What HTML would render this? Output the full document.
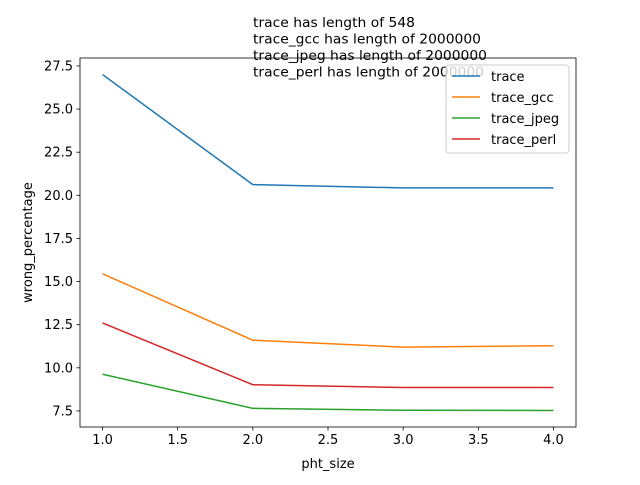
<!DOCTYPE html>
<html><head><meta charset="utf-8"><style>
body{margin:0;background:#fff;}
svg text{font-family:"DejaVu Sans","Liberation Sans",sans-serif;font-size:13px;fill:#000;}
</style></head><body>
<svg id="chart" width="640" height="480">
<rect width="640" height="480" fill="#fff"/>
<g id="plot"></g>
</svg>
<script>
const xValues=[1,2,3,4];
const seriesNames=["trace","trace_gcc","trace_jpeg","trace_perl"];
const traceVals=[27.0,20.62,20.43,20.43];
const gccVals=[15.45,11.6,11.2,11.28];
const jpegVals=[9.63,7.65,7.54,7.53];
const perlVals=[12.6,9.02,8.86,8.86];
const colors=["#1f77b4","#ff7f0e","#2ca02c","#d62728"];
const xTicks=[1.0,1.5,2.0,2.5,3.0,3.5,4.0];
const yTicks=[7.5,10.0,12.5,15.0,17.5,20.0,22.5,25.0,27.5];
const headerLines=["trace has length of 548","trace_gcc has length of 2000000","trace_jpeg has length of 2000000","trace_perl has length of 2000000"];

const NS="http://www.w3.org/2000/svg";
const L=80,R=576,T=58,B=427;
const xMin=0.85,xMax=4.15,yMin=6.57,yMax=27.96;
const sx=v=>L+(v-xMin)/(xMax-xMin)*(R-L);
const sy=v=>B-(v-yMin)/(yMax-yMin)*(B-T);
const g=document.getElementById('plot');
function mk(t,a){const e=document.createElementNS(NS,t);for(const k in a)e.setAttribute(k,a[k]);g.appendChild(e);return e;}

const headerWidths=[162,228,234,231];
headerLines.forEach((s,i)=>{const t=mk('text',{x:253,y:27+i*16.5,'font-size':'13.8',textLength:headerWidths[i],lengthAdjust:'spacingAndGlyphs'});t.textContent=s;

});

const all=[traceVals,gccVals,jpegVals,perlVals];
all.forEach((vals,si)=>{
 const p=mk('polyline',{points:vals.map((v,i)=>sx(xValues[i])+','+sy(v)).join(' '),fill:'none',stroke:colors[si],'stroke-width':1.5});
 
 
});

const frame=mk('rect',{x:L,y:T,width:R-L,height:B-T,fill:'none',stroke:'#000','stroke-width':0.8});



xTicks.forEach(v=>{const x=sx(v);mk('line',{x1:x,x2:x,y1:B,y2:B+3.5,stroke:'#000','stroke-width':0.8});
 const t=mk('text',{x:x,y:B+17,'text-anchor':'middle','font-size':'12'});t.textContent=v.toFixed(1);
 
 });
yTicks.forEach(v=>{const y=sy(v);mk('line',{x1:L-3.5,x2:L,y1:y,y2:y,stroke:'#000','stroke-width':0.8});
 const t=mk('text',{x:L-7,y:y+4.5,'text-anchor':'end'});t.textContent=v.toFixed(1);
 
 });

const xt=mk('text',{x:(L+R)/2,y:468,'text-anchor':'middle'});xt.textContent='pht_size';


const yt=mk('text',{x:0,y:0,'text-anchor':'middle',transform:'translate(32,'+((T+B)/2)+') rotate(-90)'});yt.textContent='wrong_percentage';



const lg=mk('rect',{x:446,y:65,width:123,height:88,rx:3,fill:'#fff','fill-opacity':0.8,stroke:'#ccc'});


seriesNames.forEach((n,i)=>{const y=76+i*21;
 const l=mk('line',{x1:452,x2:480,y1:y,y2:y,stroke:colors[i],'stroke-width':1.5});
 
 
 const t=mk('text',{x:491,y:y+5});t.textContent=n;
 
 });
</script>
</body></html>
